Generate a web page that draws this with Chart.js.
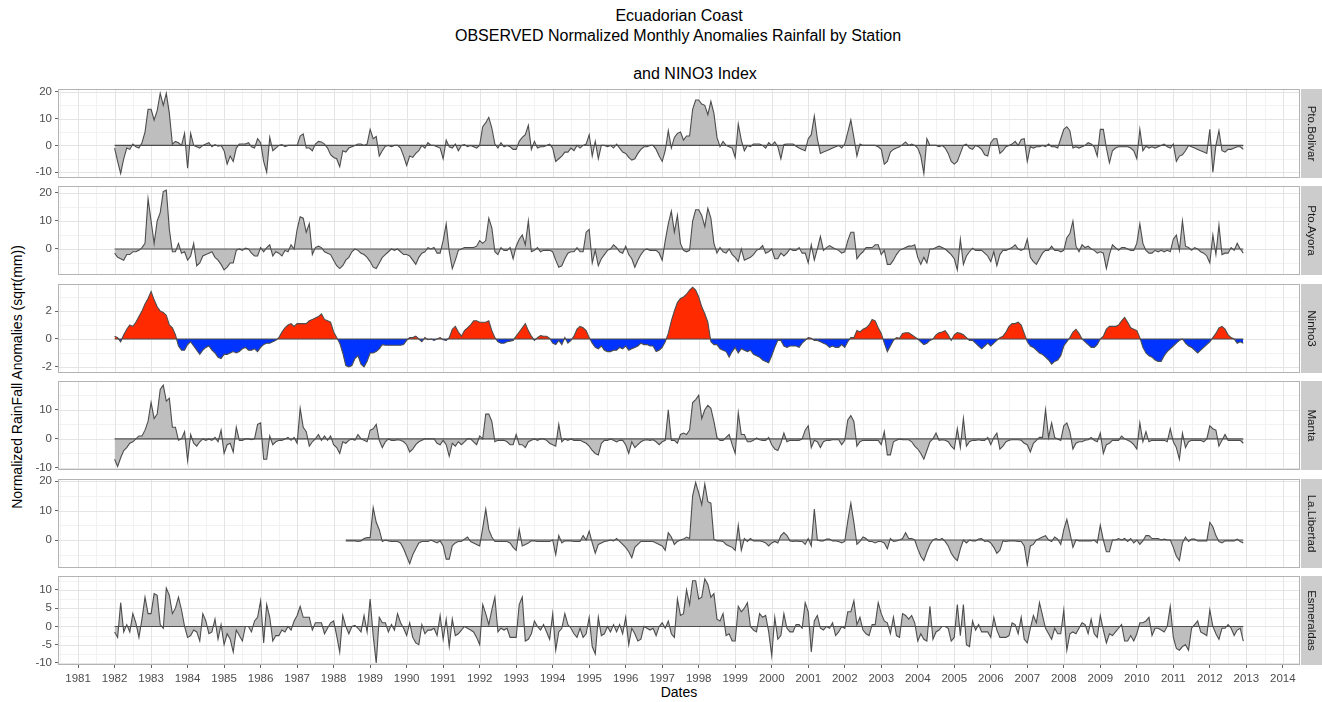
<!DOCTYPE html>
<html>
<head>
<meta charset="utf-8">
<script src="https://cdn.jsdelivr.net/npm/chart.js@4.4.1/dist/chart.umd.min.js"></script>
<style>
  body { margin: 0; background: #fff; width: 1322px; height: 702px; position: relative; overflow: hidden;
         font-family: "Liberation Sans", Arial, sans-serif; }
  canvas { position: absolute; left: 0; }
  .t { position: absolute; white-space: nowrap; transform: translateX(-50%); color: #000; }
</style>
</head>
<body>
<div class="t" style="left:679px;top:7px;font-size:16px">Ecuadorian Coast</div>
<div class="t" style="left:678px;top:27px;font-size:16px">OBSERVED Normalized Monthly Anomalies Rainfall by Station</div>
<div class="t" style="left:695px;top:65px;font-size:16px">and NINO3 Index</div>
<div class="t" style="left:17px;top:377px;font-size:14px;transform:translate(-50%,-50%) rotate(-90deg)">Normalized RainFall Anomalies (sqrt(mm))</div>
<div class="t" style="left:679px;top:684px;font-size:14px">Dates</div>

<script>
// -- Data: monthly values, Jan 1982 .. Dec 2012, one row per year --
const startYear = 1982;
const yearTicks = [1981, 1982, 1983, 1984, 1985, 1986, 1987, 1988, 1989, 1990, 1991, 1992,
  1993, 1994, 1995, 1996, 1997, 1998, 1999, 2000, 2001, 2002, 2003, 2004, 2005, 2006,
  2007, 2008, 2009, 2010, 2011, 2012, 2013, 2014];
const stationNames = ["Pto.Bolivar", "Pto.Ayora", "Ninho3", "Manta", "La.Libertad", "Esmeraldas"];

const bolivar = [
  -1, -6, -10.5, -5, -1, -1.5, 0.5, -0.5, -1, 1, 5, 13.5,
  13.5, 9.5, 13, 19.5, 15, 19.5, 12, 0.5, 1.5, 1, 0, 4.5,
  -8.5, 4.5, 0, -0.5, -1, 0, 0.5, 1, -0.5, 0.3, -0.3, 0,
  -2, -7, -4, -6, -1, 0.5, 0.5, 0.5, 1, -0.5, -1, 2.5,
  1, -6, -10, 3, -2, -1, 0, 0.3, -0.5, 0, 0, 0,
  0, 3.5, 4.3, -1, -1, -2, 0.5, 1.5, 1.3, 0.5, -1, -3.5,
  -4.5, -5, -8, -2, -2.5, -1, -0.5, 0, 0.5, 0.5, 0, 0.5,
  6, 2.5, 3.3, -4, -2, -0.3, 0, -0.5, 0, 0, -1, -4,
  -7.5, -4, -4.5, -3, -2, 0, -1, 1, 0, 0, -0.5, -1,
  -5, 2, -0.5, -1, 0.5, -2, 0, 0.3, -0.5, 0, -0.5, -1,
  0, 7, 8.5, 10.5, 6.5, 0.5, -1, 1, -0.5, 0, -0.5, -1.5,
  -1.5, 1.5, 3, 4, 7.5, -1.5, 1.5, -1, -0.5, -0.5, 0, 0.5,
  -1, -6, -5, -4, -2.5, -2.5, -1, -2, 0, -1, 0, 0.5,
  4, -4, 1.5, -5, 0, 0, -0.5, 0, -1, 0.5, -1, -2.5,
  -3, -4.5, -5.5, -5, -3, -1.5, -0.5, -0.5, 0, 0, -1.5, -4,
  -6, -2, 5.5, -1, 3, 4.5, 5, 2, 3.5, 3.5, 13.5, 17,
  17, 15.5, 15, 11.5, 16.5, 12, 3, -0.5, 1.5, 0, -0.5, -1,
  -4.5, 8, 2, -2, 0, -0.5, 0.5, 0.5, 0.5, 0, -1, 1,
  0, 1.3, -0.5, -5, 0.3, 0.5, 0.5, 0.5, -0.3, -1, -1.5, -2,
  2.5, 4, 11, 2.5, -3, -2.5, -2, -1.5, -1, -0.5, 0, -1,
  0.5, 5, 9.5, 3, -4, 0.5, 0, 0, 0, 0, 0, -0.5,
  -1.5, -7, -6, -2.5, -1.5, -1, -0.5, 0.3, 1.3, 0, 0.5, 0,
  -1, -4, -10.5, 2.5, 0, 0, 0, -0.5, 0, -1, -3, -6,
  -7, -6, -3, 0, 0.5, -1, -1.5, 0, -0.5, -1.5, -3.5, -4,
  1, 2.5, 2.5, -3, -2, -0.5, 0, 0.5, 1.5, 0, 2.2, 2.5,
  -6, -0.5, -1, -0.5, -0.5, 0, -0.5, 0.5, -0.5, -0.5, -1, 2.5,
  6, 7, 5.5, -1, -0.5, -1, -0.5, 0, 1, 0.5, -0.5, -4,
  6, 6, -1, -6.5, -2, -1, -0.5, -0.5, -0.5, -0.5, -1, -2,
  -5, 6, -2, -0.3, -1, -0.5, -1, -0.5, 0, 0.5, -0.5, -1,
  0.5, -6, -4, -3.5, -2, 0, -0.5, -1, -1.5, -2, -2.5, -3,
  6, -10, 0, 5.5, -2, -2.5, -1.5, -1.5, -1, -0.5, -0.5, -1.5
];

const ayora = [
  -1.5, -3, -3.5, -4, -2, -2, -1, -1, -0.5, 0.5, 2, 18,
  10, 2, 10, 13, 20.5, 21, 7, -1, -1, 2, -1.5, -1,
  -4, -2.5, 2, -6, -5, -2.5, -2, -1.5, -1, -3, -4, -5.5,
  -7.5, -6.5, -5, -5, -0.5, 0, -0.5, 0.3, 0, -1.5, -2.5, -2.5,
  0.5, -1, 0.5, 1.5, -2.5, -1, -1.5, -2.5, -0.5, -1, 1.5, 0,
  7, 11.5, 11, 6, 9, -2, 0.5, 1, 0.5, -1, -1.5, -2,
  -4, -6, -7, -6, -4, -3, -1, 0, -0.5, -1.5, -2, -3,
  -4.5, -6.5, -7, -5, -3, -2, -1, 0, -0.5, 0, -1, -2,
  -2, -2.5, -4, -5.5, -3, -1.5, -1, 0.5, 0, 0.5, -1.5, -1.5,
  3, 9, -1, -7, -4, -0.5, 0, 0.5, 0.5, 0.5, 0.5, 1,
  3, 2, 3, 11, 7.5, -1, -2, 0.5, -0.5, -0.5, 0.5, -3.5,
  1, 3.5, 5, 1.5, 10, -1, -0.5, 0.5, -1, -0.5, -0.5, -0.5,
  -1, -4, -6.5, -6, -3.5, -1.5, -1, -1, 0.5, -1, -1, 6,
  7, -5, -0.5, -6, -3.5, -2, -0.5, 0, 1.5, 0.5, -1, -1.5,
  1, -2, -3.5, -6.5, -4, -2, -0.5, 0, -0.5, -0.5, -0.5, -1.5,
  -4, 3, 9, 13.5, 6, 12, 2, -0.5, -1, -0.5, 10, 14,
  14, 12, 8, 14.5, 11, 2, -1.5, 0.5, -1, -1.5, 0, -2,
  -3, -4.5, 0, -4, -3.5, -3, -2, -0.5, 0, 1.2, -1.5, -1,
  0, -3.5, -3.5, -1.5, -2.5, -1.5, 0, -0.5, -0.5, 0.5, -1.5, -1.5,
  -5, 1.5, -4, 0, 4.5, -0.5, 0.5, 1.2, 0.5, 0, -0.5, -1.5,
  -1, 3, 6, 6, -3.5, -2, -1, 0.5, 0.5, 0.5, 1.5, 1.5,
  -2, -0.5, -5.5, -5.5, -4, -2, -0.5, 0, 0.5, 1, 1, 1.5,
  -3, -5.5, -3, -5, 0, 0, 0.5, 1, 0.5, 0, -1, -2,
  -3.5, -7.5, 3.5, -5.5, -2.5, -1, 0.3, -0.5, -0.5, -0.5, -1.5, -2.5,
  -4.5, -1, -6, -2, -0.5, -0.5, 0, 0.5, 1.5, 0, -0.5, 0,
  3.5, -3, -4.5, -5.5, -3.5, -1.5, -0.5, -0.5, 1, -0.5, -0.5, -1,
  -0.5, 4, 5.5, 10, 1, -1, 1.5, 0.5, 1, 0, -0.5, -1.5,
  -1, -1.5, -7, -2, 1.5, 0.5, -0.5, 0.5, 0.5, 0, -0.5, -0.5,
  2, 9, 2, -0.5, -1.5, -1.5, -0.5, -1, -0.5, -1, -0.5, -1,
  3.5, 5, -0.5, 10, 1, 0.5, -0.5, 0.5, 0, -1, -1.5, -2.5,
  -5, 5, -2, 8.5, -2, -1.5, -1.5, 0.5, -0.5, 2, 0, -1.5
];

const ninho3 = [
  0.2, 0.1, -0.2, 0.3, 0.7, 1.0, 0.9, 1.2, 1.6, 2.0, 2.5, 2.9,
  3.4, 2.8, 2.3, 2.0, 1.9, 1.7, 1.0, 0.8, 0.3, -0.5, -0.8, -0.8,
  -0.4, -0.2, -0.5, -0.8, -1.1, -0.8, -0.6, -0.5, -0.8, -1.0, -1.3, -1.4,
  -1.1, -1.1, -1.0, -0.9, -1.0, -0.9, -0.7, -0.6, -0.8, -0.8, -0.7, -0.9,
  -0.6, -0.4, -0.3, -0.3, -0.2, -0.1, 0.1, 0.5, 0.8, 1.0, 1.1, 0.9,
  1.1, 1.1, 1.1, 1.1, 1.3, 1.4, 1.5, 1.6, 1.8, 1.4, 1.3, 1.2,
  0.5, 0.1, -0.3, -1.0, -1.9, -2.0, -1.9, -1.4, -1.2, -1.8, -2.0, -1.6,
  -1.0, -1.0, -0.9, -0.7, -0.4, -0.45, -0.45, -0.45, -0.45, -0.45, -0.45, -0.4,
  -0.1, 0.1, 0.1, 0.2, 0.0, -0.2, 0.1, -0.05, 0, -0.1, 0.0, 0.1,
  -0.05, -0.1, 0.1, 0.7, 0.9, 0.5, 0.2, 0.6, 0.8, 1.0, 1.3, 1.3,
  1.2, 1.2, 1.2, 1.3, 0.6, 0.1, -0.2, -0.3, -0.3, -0.2, -0.15, -0.1,
  0.2, 0.5, 0.8, 1.1, 0.6, 0.2, -0.1, 0.1, 0.25, 0.2, 0.2, 0.05,
  -0.3, -0.4, -0.1, -0.4, 0.1, -0.3, -0.1, 0.2, 0.7, 0.9, 0.8, 0.6,
  0.1, -0.3, -0.6, -0.7, -0.5, -0.8, -0.9, -0.9, -0.8, -0.8, -0.6, -0.7,
  -0.5, -0.8, -0.7, -0.6, -0.5, -0.3, -0.4, -0.4, -0.5, -0.5, -0.9, -0.8,
  -0.6, -0.2, 0.4, 1.3, 2.0, 2.6, 2.9, 3.0, 3.2, 3.5, 3.7, 3.5,
  3.0, 2.3, 1.8, 1.2, -0.2, -0.4, -0.4, -0.7, -0.8, -0.9, -1.3, -0.9,
  -0.6, -1.0, -0.7, -0.8, -0.9, -0.8, -1.1, -1.2, -1.3, -1.5, -1.6, -1.7,
  -1.2, -0.6, -0.1, -0.1, -0.5, -0.6, -0.5, -0.5, -0.5, -0.6, -0.3, -0.1,
  0.1, 0.05, -0.1, -0.1, -0.2, -0.3, -0.4, -0.6, -0.5, -0.6, -0.6, -0.4,
  -0.6, -0.2, 0.1, 0.1, 0.6, 0.5, 0.7, 0.8, 1.0, 1.4, 1.3, 0.8,
  0.4, -0.3, -0.9, -0.5, -0.1, 0.1, 0.05, 0.4, 0.45, 0.45, 0.3, 0.15,
  0.0, -0.2, -0.4, -0.3, -0.1, 0.0, 0.3, 0.45, 0.5, 0.6, 0.3, -0.1,
  0.3, 0.45, 0.4, 0.3, 0.1, -0.1, -0.1, -0.3, -0.5, -0.7, -0.5, -0.3,
  -0.5, -0.3, -0.1, 0.1, 0.2, 0.5, 0.9, 1.1, 1.1, 1.2, 1.0, 0.4,
  -0.2, -0.5, -0.6, -0.8, -1.0, -1.1, -1.3, -1.5, -1.8, -1.6, -1.5, -1.2,
  -0.5, -0.2, 0.1, 0.5, 0.7, 0.4, 0.0, -0.2, -0.4, -0.6, -0.6, -0.4,
  0.0, 0.2, 0.7, 0.9, 0.9, 0.9, 1.0, 1.3, 1.55, 1.2, 0.8, 0.7,
  0.6, 0.1, -0.6, -1.0, -1.2, -1.3, -1.5, -1.6, -1.6, -1.2, -0.9, -0.7,
  -0.5, -0.3, -0.1, 0.0, -0.3, -0.5, -0.6, -0.8, -1.0, -0.8, -0.6, -0.4,
  -0.2, 0.1, 0.4, 0.8, 0.9, 0.7, 0.3, 0.1, 0.0, -0.3, -0.2, -0.3
];

const manta = [
  -7, -9.5, -6.5, -4, -3, -1.5, -1, 0, 1, 1, 3, 6,
  12.5, 7, 8.5, 17, 18.5, 13, 14, 4, 4, -0.5, 0, 2.5,
  -7.5, 1.5, -1.5, -2.5, -1, 0, -0.5, 0, -0.5, 0.5, -1, 3,
  -5, -2, -1.5, -4.5, 4, -0.5, -0.5, 0, 0, -0.3, 0, 5,
  5.5, -7, -7, 1, -2, -1, -0.5, -0.5, 0, 0.5, -0.5, 0.5,
  -1.5, 10.5, 4, 2.5, -2.5, -1, 0, 1.5, -0.5, 1, -0.5, 1,
  -2, -3, -5, -1, -1.5, -0.5, 0, -0.5, 1.5, 0, -0.5, -1,
  3, 3.5, 5, -0.5, -3, -1, 0, -0.5, -0.5, -0.3, -0.5, -1,
  -2, -4.5, -3.5, -2, -1, -0.5, 0, 0, 0, 0, -1.5, -2,
  -0.5, -2, -6, -1.5, -2.5, -1, -2, -1, 0, 0, -1, -2,
  1, 0, 8.5, 8.5, 6, -1, -0.5, -0.5, -0.5, -1, -2, -2,
  1.5, -2, -2, -3, -1, -0.5, 0, -0.5, 0, 0, -0.5, -1.5,
  -2, -2.5, 5, -1, 0, -0.5, 0, -0.5, -0.5, -0.5, -1, -1.5,
  -2.5, -4, -5, -5.5, -1.5, -0.5, -0.5, 0, -0.5, -1, -0.5, -0.5,
  -2, -5, -1, -3, -2, -1, -0.5, -0.3, -0.5, -0.3, -1, -2,
  -1, -0.5, 10, -0.5, -0.5, -1.5, 1.5, 2, 1.5, 3, 12.5, 13.5,
  15, 7, 10, 11.5, 10.5, 6, 0.5, -0.5, -0.5, 0.5, 1.5, -2,
  -5, 9, 1.5, 1.5, -1, -1, -0.5, 0.3, -0.3, -0.5, -0.5, 0.5,
  -2, -3.5, -4, -1.5, 2, -1, -0.5, -0.5, -0.5, -0.5, 0, 3,
  4.5, -3, -0.5, -1, -3, -1, -0.5, -0.5, -0.3, -0.3, -0.3, -2,
  -0.5, 6.5, 8, 6, -2.5, -1, -0.5, -0.5, -0.5, -0.5, -0.5, -0.5,
  -2, 2.5, -5.5, -5.5, -1, -0.5, 0, -0.3, -0.3, -0.3, -1, -2.5,
  -3.5, -5, -7, -4, -1, 0, 2, -0.5, -0.3, -0.5, -1, -2.5,
  -3.5, 3.5, -3, 7, -2.5, -1, -0.5, -0.5, -0.3, -0.5, -0.5, 0.5,
  -2, 0.5, 2, -3.5, -2.5, -1, -0.5, -0.3, -0.3, -0.3, -0.5, -1.5,
  -2, -4.5, -1.5, -0.5, 0.5, 0.5, 10, 0.5, 5.5, 0.5, 0, -0.5,
  4.5, 5.5, 2.5, -3.5, -1.5, -1, -1, -0.5, -0.3, 0.5, -0.5, -1,
  2, -5, -2, -1.5, -0.5, -0.5, -0.5, 1, 0, -0.5, -1, -2,
  -3.5, 5.5, -1, 2.5, -1, -0.5, -0.5, -0.5, -0.5, -0.5, -1, 3.5,
  -1, -3, -7, 2, -3, -1, -0.5, -0.5, -0.5, -0.5, -1, 0,
  4.5, 3.5, 3, -2.5, -0.5, 1.5, -0.5, -0.5, -0.5, -0.5, -0.5, -1.5
];

const libertad = [
  null, null, null, null, null, null, null, null, null, null, null, null,
  null, null, null, null, null, null, null, null, null, null, null, null,
  null, null, null, null, null, null, null, null, null, null, null, null,
  null, null, null, null, null, null, null, null, null, null, null, null,
  null, null, null, null, null, null, null, null, null, null, null, null,
  null, null, null, null, null, null, null, null, null, null, null, null,
  null, null, null, null, -0.3, -0.3, -0.3, -0.3, -0.5, -0.3, 0.5, 0.8,
  0.8, 11, 6, 3.5, -0.5, 0, -0.3, -0.5, -0.5, -0.5, -1, -3,
  -5.5, -8, -5, -3, -1, -0.5, -0.5, -0.5, 0, -0.5, -1, -0.3,
  -2, -6.5, -6.5, -2, -1, -0.5, -0.5, 0.3, 1, -0.5, -1, -1.5,
  -2, 4, 10.5, 3.5, 1, -0.5, -0.5, -0.5, -0.5, -0.5, -1, -2.5,
  -3.5, 3.5, -2, -1.5, -1, -0.3, -0.3, -0.5, -0.5, -0.5, -0.5, -0.5,
  0, -5, 1.5, -1, -0.3, -0.3, -0.3, -0.5, -0.5, -0.5, 1.5, 0,
  3, -1, -4.5, -1.5, -1, -0.5, -0.3, 0, -0.3, 0.5, -0.5, -1.5,
  -2.5, -4, -6, -2.5, -1.5, -0.5, -0.5, -0.5, -0.5, -0.5, -1, -1.5,
  -2, -3.5, 2.5, 1, -1.5, -0.5, 0, 0.3, 1, 0.5, 15, 19.5,
  16, 12, 19, 13, 12.5, 0.3, -0.3, -0.3, -0.5, -1.5, -2, -2.5,
  -3.5, 5, -3.5, 0.5, -0.5, 0.5, -0.3, -0.3, -0.3, -0.5, -1, -2,
  -1, -0.5, -1, 1.5, 2.5, 1.5, -0.3, -0.5, -0.3, -0.5, -0.5, -1.5,
  0.5, -2, 10.5, 0, -0.3, -0.3, 0.3, 0.3, -0.3, -0.3, -0.5, -1,
  -0.5, 6.5, 12.5, 6, -1.5, -0.5, 1, 0.5, -0.5, -0.5, -1, -0.5,
  -0.5, -1, -3, 0.5, -0.5, -0.3, 0, 0.5, 2.5, 0.5, 0.5, 0,
  -3, -5.5, -7, -4, -1.5, 0, 0.5, 0, 0.5, -0.5, -2, -4.5,
  -6, -7, -3, 0, -1, 0, -0.3, -0.3, 0.3, 0.5, -0.5, -0.3,
  -1, -2.5, -4.5, -3.5, -0.3, -0.5, -0.3, -0.3, -0.3, -0.5, -0.5, -2,
  -8.5, -2, -1.5, 0, 0.5, 1, 1.5, 0, -0.5, 1, 0.3, -1.5,
  3.5, 7, 2.5, -2.5, 0, -0.3, -0.3, -0.3, -0.3, -0.3, 0, -1,
  5, 0, -4, -4, 0, 0, 0.5, 0, 0.5, -0.5, 0.5, -1,
  0, -1.5, -0.3, 1.5, 1.5, 0.5, 0.5, 0.5, 0, 0.3, 0, 0,
  -2.5, -5.5, -7, -1, 1, -0.5, 0.3, 0.3, -0.3, -0.3, -0.3, -0.3,
  6, 4.5, 1.5, -0.5, -1, -0.3, -0.3, -0.3, -0.3, 0.3, -0.5, -1
];

const esmeraldas = [
  -1.5, -3, 6.5, -1.5, 0.5, -1.5, 3.5, 1, -3, 2, 8, 3.5,
  3.5, 9, 8.5, 0.5, -0.5, 10.5, 8.5, 3.5, 5, 8, 4.5, 0,
  -3, -2.5, -1, -1.5, -4, 3.5, 1.5, -2, -1.5, 2, -3.5, 0.5,
  -5, -2, -3.5, -7, -1, -2.5, -4, 0, 0, -1.5, 1.5, 2.5,
  7, -4.5, 6, 2.5, -4, -2.5, -2.5, -1, -1.5, 0, -1, 1.5,
  3, 5.5, 2.5, 2.5, 2.5, -1, 1, 1, 1, -2, -0.5, 1,
  1.5, -2.5, -7, 3, 0, -2, 0, 0.3, -0.5, -1.5, 3, -1.5,
  7.5, -2.5, -10, 2.5, 1, 1, -1.5, 0.5, -1, 3.5, 1, -0.5,
  -2.5, 1, -3, -4.5, -5, 0.5, -2, -1, -1, -0.5, -2.5, 3,
  -3.5, 2, -5.5, 2, -2.5, -2, -1, 0, -0.5, -1, -1.5, -3,
  -5, 6, 3.5, 0.5, 4.5, 8, -1.5, -0.5, -1, -0.5, -3, -3,
  -3, 6, 8, -4, -3.5, -2, 1.5, 0, -1, 0.5, -1.5, -3.5,
  3.5, -6.5, -1.5, -0.5, 3.5, 0.5, -0.5, -2, -3, -0.5, -3, -2,
  2.5, -5.5, -7.5, 2.5, -2.5, -2, 0, -1.5, 0.5, -1.5, 0.5, -2,
  2.5, -5, -0.5, -2, -4, -3.5, 0, -0.5, -1, -0.5, -2.5, 0,
  1, -0.5, 1.5, -2, -3, 7.5, 3, 3.5, 10, 6, 12.5, 12.5,
  7.5, 8, 13, 11.5, 8, 9, 2, 1.5, 3.5, -2.5, -2, -4,
  -4, 5.5, 4, 5, 6.5, 0, -1, -1.5, 3.5, 2.5, 3, -1.5,
  -8, 2.5, -3.5, -2.5, 3.5, -0.5, -1.5, -1.5, 0.5, 0.5, -0.5, 6.5,
  4, -7, 1.5, 3, -0.5, -1, 0, -0.5, 1, -2.5, -1.5, 0,
  -0.5, 4, 4, 7, 0.5, 2.5, -1, -2, -2.5, 0.5, 0.5, 6.5,
  3.5, 1.5, 1, -2, 2.5, -2.5, -3, 3.5, 3, 2, 3, 1,
  -4, -2, -3.5, -4, 5.5, -3.5, -1.5, -1, 0, 0, -0.5, -4,
  -3, 6, -2.5, 6, -5, -5.5, 1.5, -1, 0.5, -1.5, -1.5, -1.5,
  -3, 2.5, -1, -3, -3, -3, -2.5, 1, 0.5, -2, 2.5, -3.5,
  -4.5, -0.5, 3, 1, 6.5, 3, -0.5, -2, -3.5, -0.5, -2, -2,
  4.5, -6.5, -2, -1.5, -2, -0.5, 1, 0.5, -2, 2, -2, -3,
  3, -1, -4.5, -2, -2.5, -1.5, -0.5, 0.5, -4, -4, -2.5, -4,
  -2, 1, 1, 1.5, 2.5, -2.5, -0.5, -0.5, -1, -1.5, 0, 5.5,
  -3, -6, -6.5, -5.5, -5, -6.5, -0.5, 0.5, 1.5, -1.5, -2, -2.5,
  4.5, 0, -2, -3.5, -0.5, -0.5, 0.5, -0.5, -2.5, -1, -0.5, -4
];

const bolivarTicks = [-10, 0, 10, 20];
const ayoraTicks = [0, 10, 20];
const ninhoTicks = [-2, 0, 2];
const mantaTicks = [-10, 0, 10];
const libertadTicks = [0, 10, 20];
const esmeraldasTicks = [-10, -5, 0, 5, 10];

// -- Layout --
const panelLeft = 58;
const stripW = 22;
const panelH = 89;
const padTop = 10;
const xAxisH = 24;
const xMin = 1980.45, xMax = 2014.47;
const lineColor = '#4d4d4d';
const areaColor = '#bebebe';
const textColor = '#4d4d4d';
const fontFamily = '"Liberation Sans", Arial, sans-serif';

const panels = [
  { name: stationNames[0], values: bolivar,    ticks: bolivarTicks,    min: -12.2, max: 21.1, top: 89 },
  { name: stationNames[1], values: ayora,      ticks: ayoraTicks,      min: -9.3,  max: 22.5, top: 186 },
  { name: stationNames[2], values: ninho3,     ticks: ninhoTicks,      min: -2.43, max: 3.93, top: 284, enso: true },
  { name: stationNames[3], values: manta,      ticks: mantaTicks,      min: -10.7, max: 19.9, top: 381 },
  { name: stationNames[4], values: libertad,   ticks: libertadTicks,   min: -9.5,  max: 20.7, top: 479 },
  { name: stationNames[5], values: esmeraldas, ticks: esmeraldasTicks, min: -10.55, max: 13.8, top: 576 }
];

let monthly = function(values) {
  return values.map((v, i) => ({ x: startYear + i / 12, y: v }));
}

let baseline = function(values) {
  let idx = [];
  values.forEach((v, i) => { if (v !== null) idx.push(i) });
  return [{ x: startYear + idx[0] / 12, y: 0 }, { x: startYear + idx[idx.length - 1] / 12, y: 0 }];
}

let minorOf = function(ticks, step, min, max) {
  let out = [];
  let first = ticks[0] - step / 2;
  for (let v = first; v <= max; v += step) {
    if (v >= min && !ticks.includes(v)) out.push(v);
  }
  return out;
}

// grid, border and the grey strip on the right
const panelPlugin = {
  id: 'panel',
  beforeDatasetsDraw(chart, args, opts) {
    const { ctx, chartArea: a, scales: { x, y } } = chart;
    ctx.save();
    ctx.fillStyle = '#fff';
    ctx.fillRect(a.left, a.top, a.width, a.height);
    ctx.beginPath();
    ctx.rect(a.left, a.top, a.width, a.height);
    ctx.clip();
    let vline = (px) => { px = Math.round(px) + 0.5; ctx.beginPath(); ctx.moveTo(px, a.top); ctx.lineTo(px, a.bottom); ctx.stroke(); };
    let hline = (py) => { py = Math.round(py) + 0.5; ctx.beginPath(); ctx.moveTo(a.left, py); ctx.lineTo(a.right, py); ctx.stroke(); };
    ctx.lineWidth = 1;
    ctx.strokeStyle = '#f2f2f2';
    for (let yr of yearTicks) vline(x.getPixelForValue(yr - 0.5));
    vline(x.getPixelForValue(yearTicks[yearTicks.length - 1] + 0.5));
    for (let v of opts.minor) hline(y.getPixelForValue(v));
    ctx.strokeStyle = '#e4e4e4';
    for (let yr of yearTicks) vline(x.getPixelForValue(yr));
    for (let v of opts.ticks) hline(y.getPixelForValue(v));
    ctx.restore();
  },
  afterDraw(chart, args, opts) {
    const { ctx, chartArea: a } = chart;
    ctx.save();
    ctx.strokeStyle = '#b3b3b3';
    ctx.lineWidth = 1;
    ctx.strokeRect(a.left + 0.5, a.top + 0.5, a.width - 1, a.height - 1);
    ctx.fillStyle = '#cccccc';
    ctx.fillRect(a.right + 1, a.top, stripW - 1, a.height);
    ctx.translate(a.right + 1 + (stripW - 1) / 2, (a.top + a.bottom) / 2);
    ctx.rotate(Math.PI / 2);
    ctx.fillStyle = '#1a1a1a';
    ctx.font = '11.5px ' + fontFamily;
    ctx.textAlign = 'center';
    ctx.textBaseline = 'middle';
    ctx.fillText(opts.name, 0, 0);
    ctx.restore();
  }
};

panels.forEach((p, k) => {
  const last = k === panels.length - 1;
  const canvas = document.createElement('canvas');
  const h = padTop + panelH + (last ? xAxisH : padTop);
  canvas.width = 1322;
  canvas.height = h;
  canvas.style.top = (p.top - padTop) + 'px';
  document.body.appendChild(canvas);

  const step = p.ticks[1] - p.ticks[0];
  const area = {
    data: monthly(p.values),
    borderColor: lineColor,
    borderWidth: 1.1,
    pointRadius: 0,
    tension: 0,
    spanGaps: false,
    fill: p.enso ? { target: 'origin', above: '#ff2a00', below: '#0033ff' } : { target: 'origin', above: areaColor, below: areaColor },
    backgroundColor: areaColor
  };
  const zero = {
    data: baseline(p.values),
    borderColor: lineColor,
    borderWidth: 1.1,
    pointRadius: 0,
    fill: false
  };

  new Chart(canvas, {
    type: 'line',
    data: { datasets: [zero, area] },
    plugins: [panelPlugin],
    options: {
      responsive: false,
      animation: false,
      devicePixelRatio: 1,
      events: [],
      layout: { padding: { top: padTop, bottom: last ? 0 : padTop, left: 0, right: stripW } },
      plugins: {
        legend: { display: false },
        tooltip: { enabled: false },
        panel: { name: p.name, ticks: p.ticks, minor: minorOf(p.ticks, step, p.min, p.max) }
      },
      scales: {
        x: {
          type: 'linear',
          min: xMin,
          max: xMax,
          display: last,
          afterBuildTicks: s => { s.ticks = yearTicks.map(v => ({ value: v })) },
          afterFit: s => { s.height = last ? xAxisH : 0 },
          border: { display: false },
          grid: { drawOnChartArea: false, drawTicks: true, tickLength: 3, color: '#666' },
          ticks: { autoSkip: false, maxRotation: 0, padding: 4, color: textColor,
                   font: { family: fontFamily, size: 11.5 }, callback: v => String(v) }
        },
        y: {
          type: 'linear',
          min: p.min,
          max: p.max,
          afterBuildTicks: s => { s.ticks = p.ticks.map(v => ({ value: v })) },
          afterFit: s => { s.width = panelLeft },
          border: { display: false },
          grid: { drawOnChartArea: false, drawTicks: true, tickLength: 3, color: '#666' },
          ticks: { padding: 3, color: textColor, font: { family: fontFamily, size: 11.5 } }
        }
      }
    }
  });
});
</script>
</body>
</html>
